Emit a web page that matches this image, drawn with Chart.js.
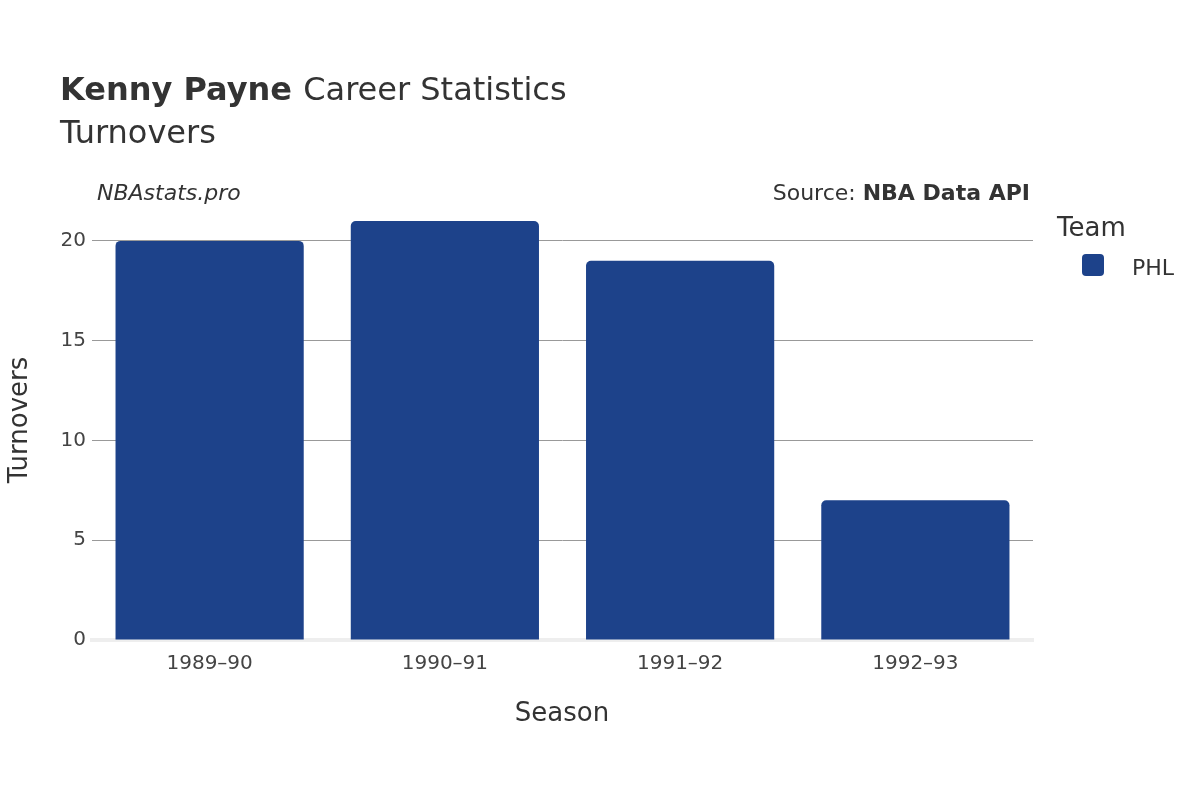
<!DOCTYPE html>
<html><head><meta charset="utf-8">
<script src="https://cdn.jsdelivr.net/npm/chart.js@4"></script>
<style>body{margin:0;background:#fff}#wrap{width:1200px;height:800px}</style>
</head><body><div id="wrap"><canvas id="c"></canvas></div>
<script>
const seasons = ['1989\u201390', '1990\u201391', '1991\u201392', '1992\u201393'];
const turnovers = [20, 21, 19, 7];
const team = 'PHL';
const barColor = '#1d428a';
const font = 'DejaVu Sans';

const texts = {
  id: 'texts',
  afterDraw(chart) {
    const c = chart.ctx;
    c.save();
    c.fillStyle = '#333';
    c.textBaseline = 'alphabetic';
    c.font = 'bold 32px "' + font + '"';
    c.fillText('Kenny Payne', 60, 100);
    let w = c.measureText('Kenny Payne ').width;
    c.font = '32px "' + font + '"';
    c.fillText('Career Statistics', 60 + w, 100);
    c.fillText('Turnovers', 60, 143);
    c.font = 'italic 22px "' + font + '"';
    c.fillText('NBAstats.pro', 97, 200);
    c.textAlign = 'right';
    c.font = 'bold 22px "' + font + '"';
    c.fillText('NBA Data API', 1030, 200);
    let bw = c.measureText('NBA Data API').width;
    c.font = '22px "' + font + '"';
    c.fillText('Source: ', 1030 - bw, 200);
    c.textAlign = 'left';
    c.font = '26px "' + font + '"';
    c.fillText('Team', 1057, 236);
    c.font = '22px "' + font + '"';
    c.fillText(team, 1132, 275);
    c.fillStyle = barColor;
    c.beginPath();
    c.roundRect(1082, 254, 22, 22, 4);
    c.fill();
    c.fillStyle = '#333';
    c.textAlign = 'center';
    c.font = '26px "' + font + '"';
    c.fillText('Season', 562, 721);
    c.translate(27, 420);
    c.rotate(-Math.PI / 2);
    c.fillText('Turnovers', 0, 0);
    c.restore();
  }
};

new Chart(document.getElementById('c'), {
  type: 'bar',
  data: {
    labels: seasons,
    datasets: [{
      label: team,
      data: turnovers,
      backgroundColor: barColor,
      borderRadius: 5,
      borderSkipped: 'bottom',
      barPercentage: 0.8,
      categoryPercentage: 1
    }]
  },
  options: {
    responsive: true,
    maintainAspectRatio: false,
    animation: false,
    layout: { padding: { left: 0, top: 201, right: 167, bottom: 0 } },
    plugins: { legend: { display: false }, tooltip: { enabled: false } },
    scales: {
      x: {
        grid: { display: false },
        border: { color: '#eee', width: 4 },
        ticks: { color: '#444', font: { family: font, size: 20 }, padding: 4 },
        afterFit: s => { s.height = 160; }
      },
      y: {
        min: 0, max: 22,
        border: { display: false },
        grid: {
          color: ctx => (ctx.tick && ctx.tick.value > 0 && ctx.tick.value % 5 === 0) ? '#999' : 'rgba(0,0,0,0)',
          drawTicks: false
        },
        ticks: {
          stepSize: 5, padding: 6, color: '#444',
          font: { family: font, size: 20 },
          callback: v => v % 5 === 0 ? v : ''
        },
        afterFit: s => { s.width = 92; }
      }
    }
  },
  plugins: [texts]
});
</script></body></html>
